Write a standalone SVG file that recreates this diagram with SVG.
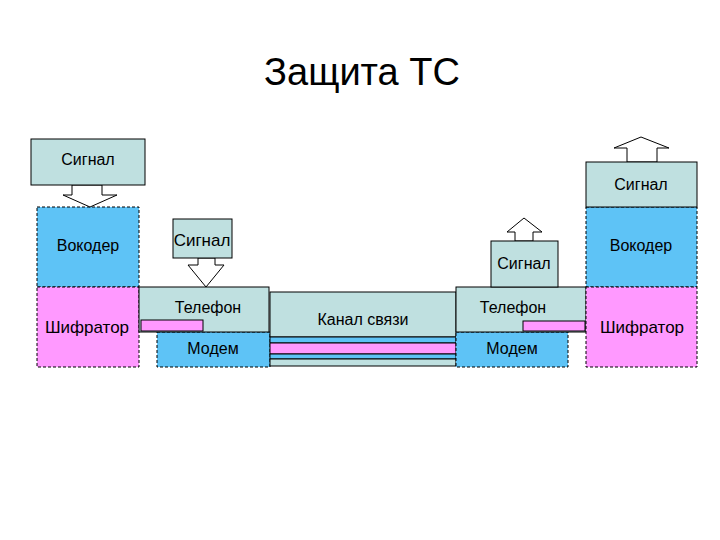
<svg xmlns="http://www.w3.org/2000/svg" width="720" height="540" viewBox="0 0 720 540">
<style>
.t{fill:#BFE0E0;stroke:#000;stroke-width:1}
.b{fill:#5EC3F6;stroke:#000;stroke-width:1;stroke-dasharray:3,2}
.p{fill:#FF99FF;stroke:#000;stroke-width:1;stroke-dasharray:3,2}
.ps{fill:#FF99FF;stroke:#000;stroke-width:1}
.bs{fill:#5EC3F6;stroke:#000;stroke-width:1}
.a{fill:#fff;stroke:#000;stroke-width:1}
text{font-family:"Liberation Sans",Arial,sans-serif;font-size:16px;text-anchor:middle;fill:#000}
</style>
<rect width="720" height="540" fill="#fff"/>
<text x="362" y="85" style="font-size:38px">Защита ТС</text>
<g id="left-vocoder"><rect class="b" x="37" y="207" width="102" height="80"/><text x="88" y="251">Вокодер</text></g>
<g id="left-shifrator"><rect class="p" x="37" y="287" width="102" height="80"/></g>
<g id="left-modem"><rect class="b" x="157" y="332" width="113" height="35"/><text x="213" y="354">Модем</text></g>
<g id="left-phone"><rect class="t" x="139" y="287" width="130" height="45"/><text x="208" y="313">Телефон</text><rect class="ps" x="141" y="320" width="62" height="11"/></g>
<g id="left-shifrator-label"><text x="87" y="333" style="font-size:17px">Шифратор</text></g>
<g id="channel"><rect class="t" x="270" y="292" width="186" height="45"/><text x="363" y="325">Канал связи</text>
<rect class="bs" x="270" y="337" width="186" height="6"/><rect class="ps" x="270" y="343" width="186" height="11"/><rect class="bs" x="270" y="354" width="186" height="5"/><rect class="t" x="270" y="359" width="186" height="7"/></g>
<g id="right-modem"><rect class="b" x="456" y="332" width="112" height="35"/><text x="512" y="354">Модем</text></g>
<g id="right-phone"><rect class="t" x="456" y="287" width="130" height="45"/><text x="513" y="313">Телефон</text><rect class="ps" x="523" y="321" width="62" height="10"/></g>
<g id="right-vocoder"><rect class="b" x="586" y="207" width="111" height="80"/><text x="641" y="251">Вокодер</text></g>
<g id="right-shifrator"><rect class="p" x="586" y="287" width="111" height="80"/><text x="642" y="333" style="font-size:17px">Шифратор</text></g>
<g id="connectors">
<path class="a" d="M72 185V195H63L90 207L117 195H102V185Z"/>
<path class="a" d="M198 258V265H188L206 287L224 265H215V258Z"/>
<path class="a" d="M515 241V232H507L524 218L542 232H533V241Z"/>
<path class="a" d="M627 162V148H614L641 137L669 148H657V162Z"/>
</g>
<g id="signal-1"><rect class="t" x="31" y="139" width="114" height="46"/><text x="88" y="165">Сигнал</text></g>
<g id="signal-2"><rect class="t" x="173" y="219" width="59" height="39"/><text x="202" y="246" style="font-size:17px">Сигнал</text></g>
<g id="signal-3"><rect class="t" x="491" y="241" width="67" height="46"/><text x="524" y="269">Сигнал</text></g>
<g id="signal-4"><rect class="t" x="586" y="162" width="111" height="45"/><text x="641" y="190">Сигнал</text></g>
</svg>
